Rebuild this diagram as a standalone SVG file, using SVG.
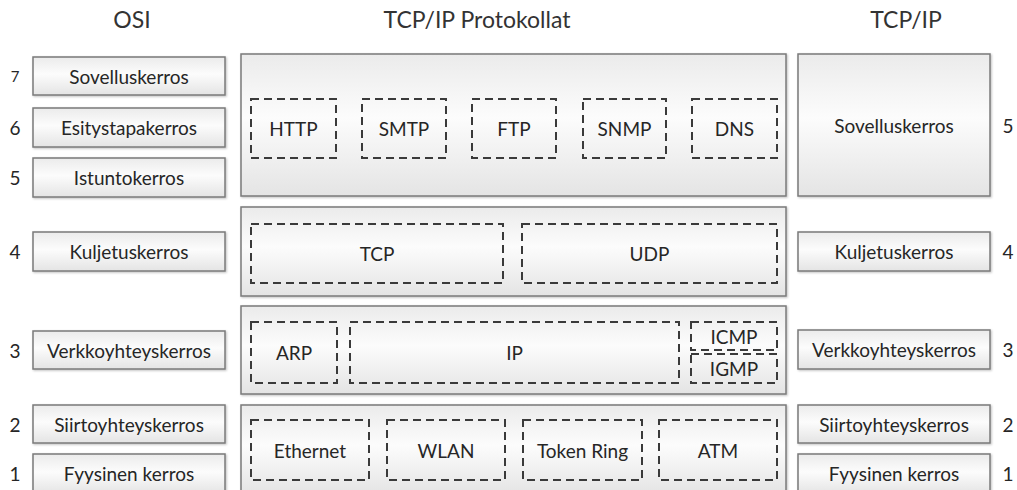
<svg xmlns="http://www.w3.org/2000/svg" width="1017" height="490" viewBox="0 0 1017 490">
<defs>
<linearGradient id="g" x1="0" y1="0" x2="0" y2="1">
<stop offset="0" stop-color="#ebebeb"/>
<stop offset="0.45" stop-color="#fcfcfc"/>
<stop offset="1" stop-color="#e4e4e4"/>
</linearGradient>
<filter id="s" x="-5%" y="-5%" width="110%" height="115%">
<feDropShadow dx="1" dy="1" stdDeviation="0.8" flood-color="#000" flood-opacity="0.25"/>
</filter>
<style>
.b{fill:url(#g);stroke:#7a7a7a;stroke-width:1.5;filter:url(#s)}
.d{fill:none;stroke:#3a3a3a;stroke-width:2;stroke-dasharray:8 5}
text{font-family:Lato,"Open Sans","Liberation Sans",sans-serif;fill:#262626;font-size:19px;text-anchor:middle;dominant-baseline:central}
.t{font-size:23px;fill:#333}
</style>
</defs>
<rect width="1017" height="490" fill="#ffffff"/>
<g id="titles">
<text class="t" x="132" y="19">OSI</text>
<text class="t" x="477" y="19">TCP/IP Protokollat</text>
<text class="t" x="906" y="19">TCP/IP</text>
</g>
<g id="osi">
<g id="osi7"><rect class="b" x="33" y="57" width="192" height="38"/><text x="129" y="76">Sovelluskerros</text><text x="15" y="76" style="font-size:15px">7</text></g>
<g id="osi6"><rect class="b" x="33" y="108" width="192" height="39"/><text x="129" y="127.5">Esitystapakerros</text><text x="15" y="127.5">6</text></g>
<g id="osi5"><rect class="b" x="33" y="158" width="192" height="39"/><text x="129" y="177.5">Istuntokerros</text><text x="15" y="177.5">5</text></g>
<g id="osi4"><rect class="b" x="33" y="232" width="192" height="39"/><text x="129" y="251.5">Kuljetuskerros</text><text x="15" y="251.5">4</text></g>
<g id="osi3"><rect class="b" x="33" y="331" width="192" height="38"/><text x="129" y="350">Verkkoyhteyskerros</text><text x="15" y="350">3</text></g>
<g id="osi2"><rect class="b" x="33" y="405" width="192" height="38"/><text x="129" y="424">Siirtoyhteyskerros</text><text x="15" y="424">2</text></g>
<g id="osi1"><rect class="b" x="33" y="454" width="192" height="40"/><text x="129" y="473">Fyysinen kerros</text><text x="15" y="473">1</text></g>
</g>
<g id="proto">
<g id="app"><rect class="b" x="241" y="54" width="545" height="142"/>
<rect class="d" x="251" y="99" width="85" height="59"/><text x="293.5" y="128.5">HTTP</text>
<rect class="d" x="362" y="99" width="84" height="59"/><text x="404" y="128.5">SMTP</text>
<rect class="d" x="472" y="99" width="84" height="59"/><text x="514" y="128.5">FTP</text>
<rect class="d" x="583" y="99" width="83" height="59"/><text x="624.5" y="128.5">SNMP</text>
<rect class="d" x="692" y="99" width="85" height="59"/><text x="734.5" y="128.5">DNS</text>
</g>
<g id="transport"><rect class="b" x="241" y="207" width="545" height="89"/>
<rect class="d" x="251" y="224" width="252" height="59"/><text x="377" y="253.5">TCP</text>
<rect class="d" x="522" y="224" width="255" height="59"/><text x="649.5" y="253.5">UDP</text>
</g>
<g id="network"><rect class="b" x="241" y="306" width="545" height="88"/>
<rect class="d" x="251" y="322" width="86" height="61"/><text x="294" y="352.5">ARP</text>
<rect class="d" x="350" y="322" width="329" height="61"/><text x="514.5" y="352.5">IP</text>
<rect class="d" x="691" y="322" width="86" height="28"/><text x="734" y="336">ICMP</text>
<rect class="d" x="691" y="354" width="86" height="29"/><text x="734" y="368.5">IGMP</text>
</g>
<g id="link"><rect class="b" x="241" y="405" width="545" height="90"/>
<rect class="d" x="251" y="420" width="118" height="60"/><text x="310" y="450">Ethernet</text>
<rect class="d" x="387" y="420" width="118" height="60"/><text x="446" y="450">WLAN</text>
<rect class="d" x="523" y="420" width="119" height="60"/><text x="582.5" y="450">Token Ring</text>
<rect class="d" x="659" y="420" width="118" height="60"/><text x="718" y="450">ATM</text>
</g>
</g>
<g id="tcpip">
<g id="tcp5"><rect class="b" x="798" y="54" width="192" height="142"/><text x="894" y="125">Sovelluskerros</text><text x="1008" y="125">5</text></g>
<g id="tcp4"><rect class="b" x="798" y="232" width="192" height="39"/><text x="894" y="251.5">Kuljetuskerros</text><text x="1008" y="251.5">4</text></g>
<g id="tcp3"><rect class="b" x="798" y="330" width="192" height="39"/><text x="894" y="349.5">Verkkoyhteyskerros</text><text x="1008" y="349.5">3</text></g>
<g id="tcp2"><rect class="b" x="798" y="405" width="192" height="38"/><text x="894" y="424">Siirtoyhteyskerros</text><text x="1008" y="424">2</text></g>
<g id="tcp1"><rect class="b" x="798" y="454" width="192" height="40"/><text x="894" y="473">Fyysinen kerros</text><text x="1008" y="473">1</text></g>
</g>
<g id="connectors"/>
</svg>
